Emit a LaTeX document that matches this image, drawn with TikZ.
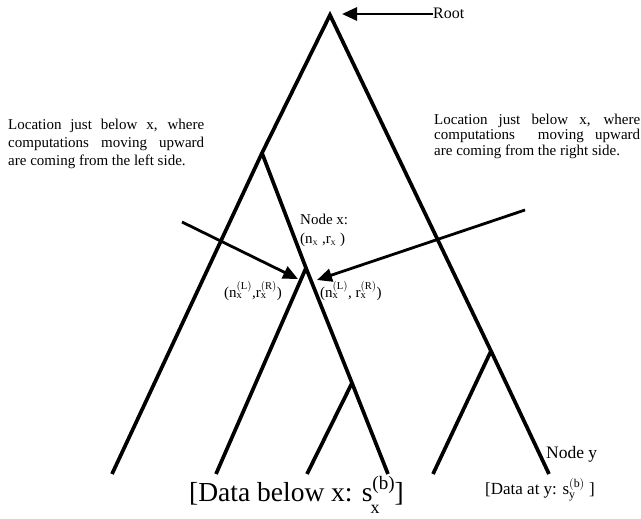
\documentclass[tikz,border=0pt]{standalone}
\usepackage{fontspec}
\setmainfont{Liberation Serif}
\usetikzlibrary{arrows.meta}
\tikzset{
  branch/.style={line width=3.7pt, line cap=butt, line join=miter},
  pointer/.style={line width=2.8pt, -{Triangle[length=15pt,width=13pt]}},
  txt/.style={font=\fontsize{15}{17}\selectfont, inner sep=0pt},
}
\begin{document}
\begin{tikzpicture}[x=1pt,y=-1pt]
\useasboundingbox (0,0) rectangle (641,519);
% tree points
\coordinate (root) at (330,15);
\coordinate (a) at (262,153);
\coordinate (L1) at (112,474);
\coordinate (x) at (306,268);
\coordinate (L2) at (216,474);
\coordinate (b) at (352,383);
\coordinate (L3) at (307,474);
\coordinate (L4) at (388,474);
\coordinate (c) at (491,351);
\coordinate (L5) at (433,474);
\coordinate (y) at (549,474);
\draw[branch] (L1) -- (a) -- (root) -- (c) -- (y);
\draw[branch] (a) -- (x) -- (b) -- (L4);
\draw[branch] (x) -- (L2);
\draw[branch] (b) -- (L3);
\draw[branch] (c) -- (L5);
% texts
\node[txt, font=\fontsize{16}{18}\selectfont, anchor=base west] (roottxt) at (433,19) {Root};
\node[txt, font=\fontsize{15}{18}\selectfont, anchor=base west, align=left] (lefttxt) at (8,166)
  {\makebox[196pt][s]{Location just below x, where}\\
   \makebox[196pt][s]{computations moving upward}\\
   are coming from the left side.};
\node[txt, font=\fontsize{15}{16}\selectfont, anchor=base west, align=left] (righttxt) at (434,156)
  {\makebox[206pt][s]{Location just below x, where}\\
   \makebox[206pt][s]{computations\ \ moving upward}\\
   are coming from the right side.};
\node[txt, anchor=base west] (nodex) at (300,225) {Node x:};
\node[txt, anchor=base west] (nxrx) at (300,243) {(n\textsubscript{\scriptsize X} ,r\textsubscript{\scriptsize X} )};
\node[txt, anchor=base west] (lab1) at (224,297) {($\mathrm{n}^{\mathrm{(L)}}_{\mathrm{x}}$,$\mathrm{r}^{\mathrm{(R)}}_{\mathrm{x}}$)};
\node[txt, anchor=base west] (lab2) at (320,297) {($\mathrm{n}^{\mathrm{(L)}}_{\mathrm{x}}$, $\mathrm{r}^{\mathrm{(R)}}_{\mathrm{x}}$)};
\node[txt, font=\fontsize{17.5}{20}\selectfont, anchor=base west] (nodey) at (546,458) {Node y};
\node[txt, font=\fontsize{17}{20}\selectfont, anchor=base west] (datay) at (485,494) {[Data at y: $\mathrm{s}^{\mathrm{(b)}}_{\mathrm{y}}$ ]};
\node[inner sep=0pt, anchor=base west, font=\fontsize{27.5}{30}\selectfont] (datax) at (189,501)
  {[Data below x: s\raisebox{12pt}{\fontsize{19}{20}\selectfont(b)}\llap{\raisebox{-12pt}{\fontsize{18}{20}\selectfont x}\hspace{15pt}}]};
% pointers
\coordinate (p1) at (182,222);
\coordinate (t1) at (298,279);
\coordinate (p2) at (525,210);
\coordinate (t2) at (317,280);
\coordinate (t3) at (342,14);
\coordinate (r0) at (433,14);
\draw[pointer] (p1) -- (t1);
\draw[pointer] (p2) -- (t2);
\draw[pointer] (r0) -- (t3);
\end{tikzpicture}
\end{document}
